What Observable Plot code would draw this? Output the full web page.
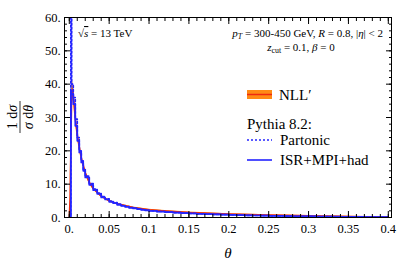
<!DOCTYPE html>
<html><head><meta charset="utf-8">
<script src="https://cdn.jsdelivr.net/npm/d3@7"></script>
<script src="https://cdn.jsdelivr.net/npm/@observablehq/plot@0.6"></script>
<style>body{margin:0;background:#fff} #chart{width:399px;height:269px}</style>
</head><body><div id="chart"></div><script>
// NLL' calculation: theta, central value, band low, band high
const nllTheta = [0, 0.001, 0.002, 0.003, 0.004, 0.005, 0.006, 0.007, 0.008, 0.01, 0.012, 0.015, 0.02, 0.025, 0.03, 0.04, 0.05, 0.06, 0.08, 0.1, 0.12, 0.15, 0.2, 0.25, 0.3, 0.35, 0.4];
const nllMid = [0, 6, 22, 36, 38.5, 37, 34.5, 31.5, 29, 25, 22, 18, 13.5, 10.6, 8.7, 6.4, 5.0, 4.1, 3.0, 2.35, 1.95, 1.5, 1.05, 0.75, 0.5, 0.3, 0.12];
const nllLo = [0, 5, 20, 33.5, 35.5, 34.5, 32.5, 29.8, 27.5, 23.8, 21, 17.2, 12.9, 10.1, 8.3, 6.1, 4.75, 3.9, 2.85, 2.2, 1.8, 1.38, 0.95, 0.66, 0.43, 0.25, 0.09];
const nllHi = [0, 7, 25, 40, 41.5, 39.5, 36.5, 33.2, 30.5, 26.2, 23, 18.8, 14.1, 11.1, 9.1, 6.7, 5.25, 4.3, 3.15, 2.5, 2.1, 1.62, 1.15, 0.84, 0.57, 0.35, 0.15];

// Pythia 8.2 histograms
const binEdges = [0, 0.002, 0.003, 0.005, 0.0075, 0.01, 0.0125, 0.015, 0.0175, 0.02,
  0.025, 0.03, 0.035, 0.04, 0.045, 0.05, 0.055, 0.06, 0.065, 0.07, 0.075, 0.08, 0.085, 0.09, 0.095, 0.1,
  0.11, 0.12, 0.13, 0.14, 0.15, 0.16, 0.17, 0.18, 0.19, 0.2, 0.21, 0.22, 0.23, 0.24, 0.25,
  0.26, 0.27, 0.28, 0.29, 0.3, 0.31, 0.32, 0.33, 0.34, 0.35, 0.36, 0.37, 0.38, 0.39, 0.4];
const partonic = [0, 75, 40, 36, 29.5, 24, 20, 17, 14.5,
  12.4, 10.2, 8.5, 7.3, 6.3, 5.6, 4.9, 4.5, 4.0, 3.6, 3.3, 3.0, 2.8, 2.55, 2.4, 2.2,
  2.0, 1.8, 1.62, 1.48, 1.33, 1.22, 1.1, 1.0, 0.93, 0.85, 0.78, 0.71, 0.65, 0.6, 0.54, 0.5, 0.45, 0.41, 0.37, 0.34, 0.31, 0.28, 0.25, 0.23, 0.2, 0.18, 0.16, 0.14, 0.12, 0.1];
const hadronic = [0, 38, 37, 34, 27.5, 23, 19.5, 16.5, 14,
  12, 9.8, 8.2, 7.1, 6.0, 5.4, 4.7, 4.3, 3.8, 3.5, 3.2, 2.9, 2.7, 2.5, 2.3, 2.15,
  1.95, 1.75, 1.6, 1.45, 1.3, 1.2, 1.1, 1.0, 0.92, 0.85, 0.78, 0.72, 0.66, 0.6, 0.55, 0.5, 0.46, 0.42, 0.38, 0.35, 0.32, 0.29, 0.26, 0.24, 0.21, 0.19, 0.17, 0.15, 0.13, 0.11];

const xTicks = [0, 0.05, 0.1, 0.15, 0.2, 0.25, 0.3, 0.35, 0.4];
const xTickLabels = ["0.", "0.05", "0.1", "0.15", "0.2", "0.25", "0.3", "0.35", "0.4"];
const yTicks = [0, 10, 20, 30, 40, 50, 60];
const yTickLabels = ["0.", "10.", "20.", "30.", "40.", "50.", "60."];
const xMinor = d3.range(0, 0.4001, 0.01);
const yMinor = d3.range(0, 60.01, 2);

const nll = nllTheta.map((t, i) => ({theta: t, mid: nllMid[i], lo: nllLo[i], hi: nllHi[i]}));
function stepPoints(vals) {
  const pts = [];
  vals.forEach((v, i) => { pts.push({theta: binEdges[i], v}); pts.push({theta: binEdges[i + 1], v}); });
  return pts;
}
const partPts = stepPoints(partonic);
const hadPts = stepPoints(hadronic);

const BLUE = "#2424ff";
const blank = () => "";
const plot = Plot.plot({
  width: 399, height: 269,
  marginLeft: 64, marginRight: 8, marginTop: 17, marginBottom: 52,
  x: {domain: [-0.006, 0.404], label: null},
  y: {domain: [0, 60], label: null},
  style: {fontFamily: "Liberation Serif", fontSize: "12.5px", color: "#000", background: "#fff"},
  marks: [
    Plot.areaY(nll, {x: "theta", y1: "lo", y2: "hi", fill: "#ff8a14", clip: true}),
    Plot.line(nll, {x: "theta", y: "mid", stroke: "#ee2a10", strokeWidth: 1.5, clip: true}),
    Plot.line(partPts, {x: "theta", y: "v", stroke: BLUE, strokeWidth: 1.7, strokeDasharray: "2,2", clip: true}),
    Plot.line(hadPts, {x: "theta", y: "v", stroke: BLUE, strokeWidth: 1.7, clip: true}),
    Plot.frame({stroke: "#000", strokeWidth: 1}),
    Plot.axisX(xTicks, {anchor: "bottom", tickSize: -6, tickPadding: 13, label: null, tickFormat: d => xTickLabels[xTicks.indexOf(d)]}),
    Plot.axisX(xMinor, {anchor: "bottom", tickSize: -3, tickFormat: blank, label: null}),
    Plot.axisX(xTicks, {anchor: "top", tickSize: -6, tickFormat: blank, label: null}),
    Plot.axisX(xMinor, {anchor: "top", tickSize: -3, tickFormat: blank, label: null}),
    Plot.axisY(yTicks, {anchor: "left", tickSize: -6, tickPadding: 10, label: null, tickFormat: d => yTickLabels[yTicks.indexOf(d)]}),
    Plot.axisY(yMinor, {anchor: "left", tickSize: -3, tickFormat: blank, label: null}),
    Plot.axisY(yTicks, {anchor: "right", tickSize: -6, tickFormat: blank, label: null}),
    Plot.axisY(yMinor, {anchor: "right", tickSize: -3, tickFormat: blank, label: null})
  ]
});
document.getElementById("chart").appendChild(plot);

const svg = d3.select(plot);
const F = "Liberation Serif";
function rich(x, y, parts, size, anchor) {
  const t = svg.append("text").attr("x", x).attr("y", y).attr("font-family", F)
    .attr("font-size", size).attr("text-anchor", anchor || "start").attr("fill", "#000");
  parts.forEach(p => {
    const s = t.append("tspan").text(p.t);
    if (p.i) s.attr("font-style", "italic");
    if (p.sub) s.attr("font-size", size * 0.72).attr("dy", 2);
    if (p.up) s.attr("dy", -2);
    if (p.o) s.attr("text-decoration", "overline");
  });
  return t;
}
// annotations
rich(78, 37, [{t: "√"}, {t: "s", i: 1, o: 1}, {t: " = 13 TeV"}], 11);
rich(383, 37, [{t: "p", i: 1}, {t: "T", i: 1, sub: 1}, {t: " = 300-450 GeV, ", up: 1}, {t: "R", i: 1}, {t: " = 0.8, |"}, {t: "η", i: 1}, {t: "| < 2"}], 11, "end");
rich(301, 51, [{t: "z", i: 1}, {t: "cut", sub: 1}, {t: " = 0.1, ", up: 1}, {t: "β", i: 1}, {t: " = 0"}], 11, "middle");

// legend
svg.append("rect").attr("x", 247).attr("y", 90).attr("width", 25).attr("height", 9).attr("fill", "#ff8a14");
svg.append("line").attr("x1", 247).attr("x2", 272).attr("y1", 94.5).attr("y2", 94.5).attr("stroke", "#ee2a10").attr("stroke-width", 1.5);
rich(279, 100, [{t: "NLL′"}], 15);
rich(247, 129, [{t: "Pythia 8.2:"}], 15);
svg.append("line").attr("x1", 247).attr("x2", 272).attr("y1", 140).attr("y2", 140).attr("stroke", BLUE).attr("stroke-width", 1.6).attr("stroke-dasharray", "2,2");
rich(280, 145, [{t: "Partonic"}], 15);
svg.append("line").attr("x1", 247).attr("x2", 272).attr("y1", 160).attr("y2", 160).attr("stroke", BLUE).attr("stroke-width", 1.6);
rich(280, 165, [{t: "ISR+MPI+had"}], 15);

// axis labels
rich(228, 258, [{t: "θ", i: 1}], 15, "middle");
const g = svg.append("g").attr("transform", "translate(20,117) rotate(-90)");
g.append("text").attr("x", 0).attr("y", -3).attr("text-anchor", "middle").attr("font-family", F).attr("font-size", 14)
  .html('1 d<tspan font-style="italic">σ</tspan>');
g.append("text").attr("x", 0).attr("y", 13).attr("text-anchor", "middle").attr("font-family", F).attr("font-size", 14)
  .html('<tspan font-style="italic">σ</tspan> d<tspan font-style="italic">θ</tspan>');
g.append("line").attr("x1", -16).attr("x2", 16).attr("y1", 0).attr("y2", 0).attr("stroke", "#000").attr("stroke-width", 0.8);
</script></body></html>
